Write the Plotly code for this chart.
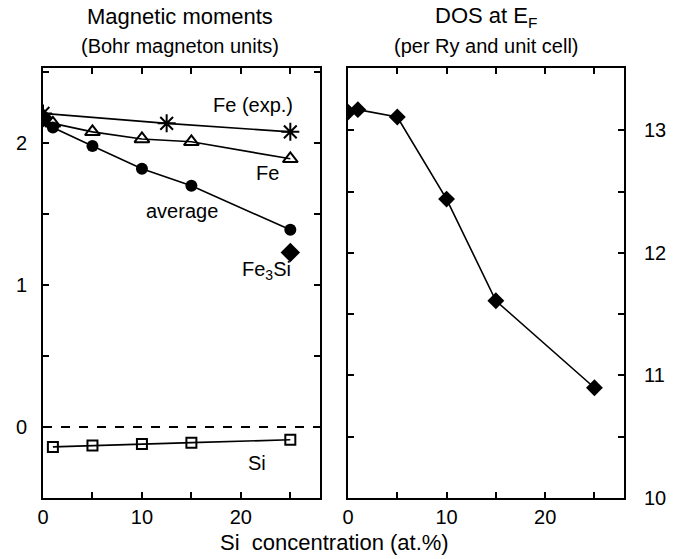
import plotly.graph_objects as go

# ---- data ----
fe_exp_x = [0, 12.5, 25]
fe_exp_y = [2.21, 2.14, 2.08]

fe_x = [0, 1, 5, 10, 15, 25]
fe_y = [2.15, 2.14, 2.08, 2.03, 2.01, 1.89]

avg_x = [0, 1, 5, 10, 15, 25]
avg_y = [2.17, 2.11, 1.98, 1.82, 1.70, 1.39]

ordered_x = [0, 25]
ordered_y = [2.18, 1.23]

si_x = [1, 5, 10, 15, 25]
si_y = [-0.14, -0.13, -0.12, -0.11, -0.09]

dos_x = [0, 1, 5, 10, 15, 25]
dos_y = [13.15, 13.17, 13.11, 12.44, 11.61, 10.90]

x_tickvals = [0, 5, 10, 15, 20, 25]
x_ticktext = ["0", "", "10", "", "20", ""]
ym_tickvals = [0, 0.5, 1, 1.5, 2, 2.5]
ym_ticktext = ["0", "", "1", "", "2", ""]
yd_tickvals = [10, 10.5, 11, 11.5, 12, 12.5, 13]
yd_ticktext = ["10", "", "11", "", "12", "", "13"]

FONT = "Liberation Sans, Arial, Helvetica, sans-serif"
BLACK = "black"

fig = go.Figure()

fig.add_trace(go.Scatter(x=fe_exp_x, y=fe_exp_y, mode="lines+markers",
                         line=dict(color=BLACK, width=1.6),
                         marker=dict(symbol="asterisk-open", size=15,
                                     line=dict(color=BLACK, width=2)),
                         xaxis="x", yaxis="y"))
fig.add_trace(go.Scatter(x=fe_x, y=fe_y, mode="lines+markers",
                         line=dict(color=BLACK, width=1.6),
                         marker=dict(symbol="triangle-up-open", size=13,
                                     color=BLACK, line=dict(color=BLACK, width=2)),
                         xaxis="x", yaxis="y"))
fig.add_trace(go.Scatter(x=avg_x, y=avg_y, mode="lines+markers",
                         line=dict(color=BLACK, width=1.6),
                         marker=dict(symbol="circle", size=12, color=BLACK),
                         xaxis="x", yaxis="y"))
fig.add_trace(go.Scatter(x=ordered_x, y=ordered_y, mode="markers",
                         marker=dict(symbol="diamond", size=15, color=BLACK),
                         xaxis="x", yaxis="y"))
fig.add_trace(go.Scatter(x=si_x, y=si_y, mode="lines+markers",
                         line=dict(color=BLACK, width=1.6),
                         marker=dict(symbol="square-open", size=10,
                                     color=BLACK, line=dict(color=BLACK, width=2)),
                         xaxis="x", yaxis="y"))
fig.add_trace(go.Scatter(x=dos_x, y=dos_y, mode="lines+markers",
                         line=dict(color=BLACK, width=1.6),
                         marker=dict(symbol="diamond", size=13, color=BLACK),
                         xaxis="x2", yaxis="y2"))

axis_common = dict(showline=True, linecolor=BLACK, linewidth=2, mirror="ticks",
                   ticks="inside", ticklen=6, tickwidth=1.5, tickcolor=BLACK,
                   showgrid=False, zeroline=False, automargin=False,
                   tickfont=dict(family=FONT, size=20, color=BLACK))

fig.update_layout(
    width=682, height=559,
    margin=dict(l=0, r=0, t=68, b=61, autoexpand=False),
    paper_bgcolor="white", plot_bgcolor="white",
    showlegend=False,
    xaxis=dict(domain=[43/682, 320/682], range=[0, 28], anchor="y",
               tickmode="array", tickvals=x_tickvals, ticktext=x_ticktext,
               ticklabelstandoff=0, **axis_common),
    yaxis=dict(domain=[0, 1], range=[-0.5, 2.53], anchor="x",
               tickmode="array", tickvals=ym_tickvals, ticktext=ym_ticktext,
               ticklabelstandoff=10, **axis_common),
    xaxis2=dict(domain=[348/682, 624/682], range=[0, 28], anchor="y2",
                tickmode="array", tickvals=x_tickvals, ticktext=x_ticktext,
                ticklabelstandoff=0, **axis_common),
    yaxis2=dict(domain=[0, 1], range=[10, 13.51], anchor="x2", side="right",
                tickmode="array", tickvals=yd_tickvals, ticktext=yd_ticktext,
                ticklabelstandoff=14, **axis_common),
)

# dashed zero line
fig.add_shape(type="line", xref="x domain", yref="y", x0=0, x1=1, y0=0, y1=0,
              line=dict(color=BLACK, width=2, dash="dash"))

lab = dict(family=FONT, size=20, color=BLACK)
ann = [
    dict(text="Fe (exp.)", x=21.2, y=2.27, xref="x", yref="y"),
    dict(text="Fe", x=22.7, y=1.79, xref="x", yref="y"),
    dict(text="average", x=14.0, y=1.52, xref="x", yref="y"),
    dict(text="Fe<sub>3</sub>Si", x=22.6, y=1.10, xref="x", yref="y"),
    dict(text="Si", x=21.6, y=-0.25, xref="x", yref="y"),
    dict(text="Magnetic moments", x=180/682, y=1.119, xref="paper", yref="paper",
         font=dict(family=FONT, size=22, color=BLACK)),
    dict(text="(Bohr magneton units)", x=180/682, y=1.052, xref="paper", yref="paper",
         font=dict(family=FONT, size=20, color=BLACK)),
    dict(text="DOS at E<sub>F</sub>", x=486/682, y=1.119, xref="paper", yref="paper",
         font=dict(family=FONT, size=22, color=BLACK)),
    dict(text="(per Ry and unit cell)", x=486/682, y=1.052, xref="paper", yref="paper",
         font=dict(family=FONT, size=20, color=BLACK)),
    dict(text="Si  concentration (at.%)", x=334/682, y=-0.103, xref="paper", yref="paper",
         font=dict(family=FONT, size=22, color=BLACK)),
]
for a in ann:
    a.setdefault("font", lab)
    fig.add_annotation(showarrow=False, xanchor="center", yanchor="middle", **a)

fig.write_html("out.html",
               config={"displayModeBar": False},
               post_script="document.body.style.margin='0';document.body.style.padding='0';")
